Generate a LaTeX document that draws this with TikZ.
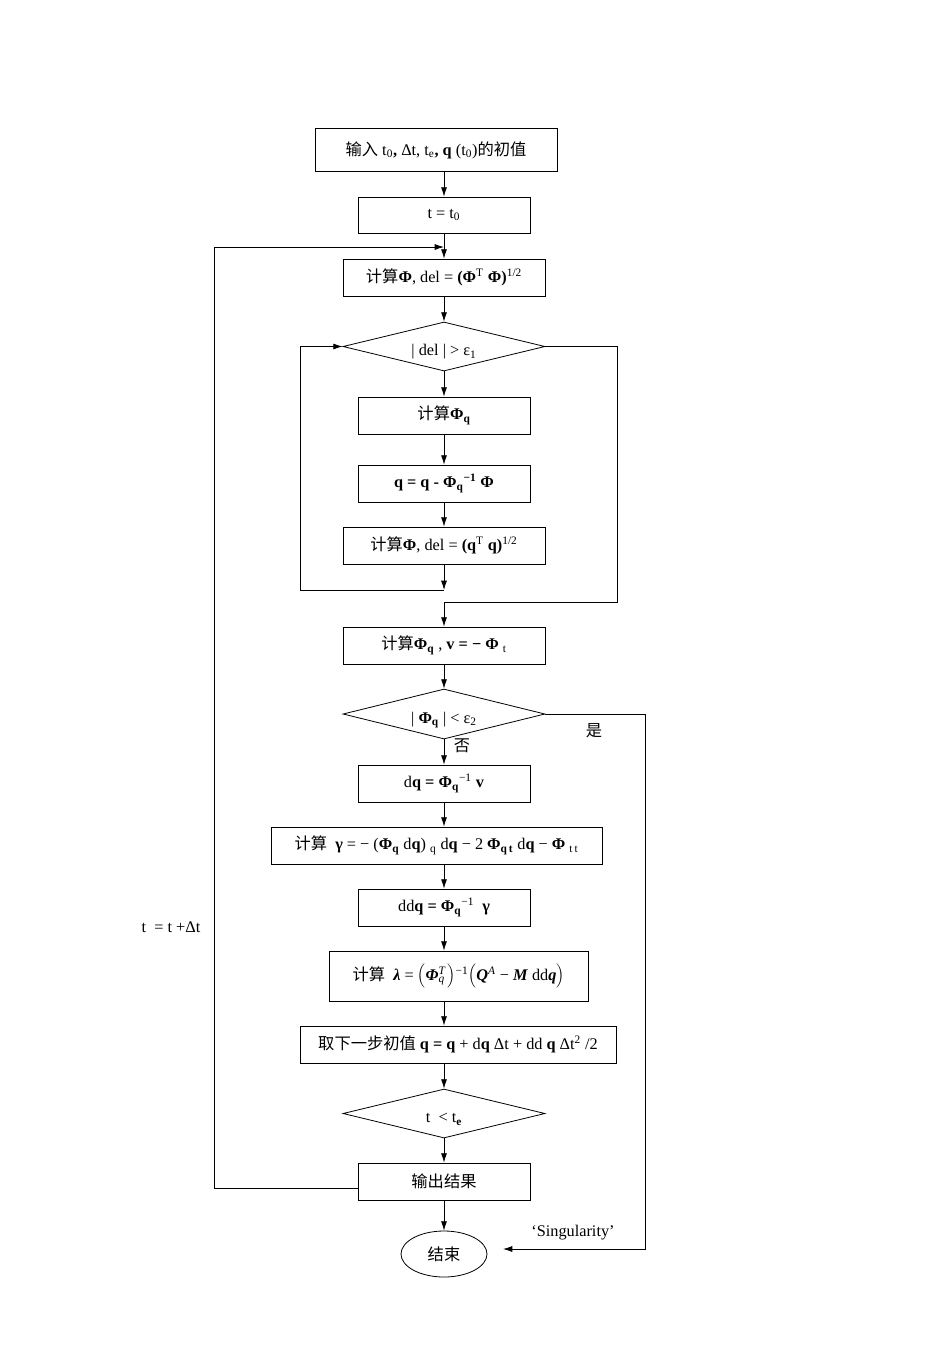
\documentclass[tikz,border=0pt]{standalone}
\usepackage{fontspec}
\setmainfont{Liberation Serif}
\newfontfamily\cjk{Noto Sans CJK SC}
\usetikzlibrary{shapes.geometric,arrows.meta}
\newcommand{\zh}[1]{{\cjk #1}}
\newcommand{\bsub}[1]{\textsubscript{\textbf{#1}}}
\newcommand{\sub}[1]{\textsubscript{#1}}
\newcommand{\sps}[1]{\textsuperscript{#1}}
\newcommand{\dn}[1]{\raisebox{-7pt}[0pt][0pt]{#1}}
\begin{document}
\begin{tikzpicture}[x=0.75pt,y=-0.75pt,
 font=\fontsize{12.2}{14}\selectfont,
 box/.style={draw,line width=0.6pt,inner sep=2pt,minimum height=27.75pt},
 dia/.style={draw,diamond,line width=0.6pt,inner sep=0pt,aspect=4,minimum width=151.5pt,minimum height=36.75pt},
 arr/.style={line width=0.6pt,-{Latex[length=7pt,width=4.5pt]}},
 ln/.style={line width=0.6pt}]
\useasboundingbox (0,0) rectangle (952,1347);

\node[box,minimum width=181.5pt,minimum height=32.25pt] (b1) at (436,150) {\zh{输入} t\sub{0}\textbf{,} Δt, t\sub{e}\textbf{,} \textbf{q} (t\sub{0})\zh{的初值}};
\node[box,minimum width=129pt,minimum height=27pt] (b2) at (444,215) {t = t\sub{0}};
\node[box,minimum width=151.5pt] (b3) at (444,277.5) {\zh{计算}\textbf{Φ}, del = \textbf{(Φ}\sps{T} \textbf{Φ)}\sps{1/2}};
\node[dia] (d1) at (444,346.5) {\dn{| del | > ε\sub{1}}};
\node[box,minimum width=129pt] (b4) at (444,415.5) {\zh{计算}\textbf{Φ\sub{q}}};
\node[box,minimum width=129pt] (b5) at (444,483.5) {\textbf{q = q - Φ\sub{q}\sps{−1} Φ}};
\node[box,minimum width=151.5pt] (b6) at (444,545.5) {\zh{计算}\textbf{Φ}, del = \textbf{(q}\sps{T} \textbf{q)}\sps{1/2}};
\node[box,minimum width=151.5pt] (b7) at (444,645.5) {\zh{计算}\textbf{Φ\sub{q}} , \textbf{v = − Φ} \sub{t}};
\node[dia,minimum height=37.5pt] (d2) at (444,714) {\dn{| \textbf{Φ\sub{q}} | < ε\sub{2}}};
\node[box,minimum width=129pt] (b8) at (444,783.5) {d\textbf{q = Φ\sub{q}}\sps{−1} \textbf{v}};
\node[box,minimum width=248.25pt] (b9) at (436.5,845.5) {\zh{计算}\ \ \textbf{γ} = − (\textbf{Φ\sub{q}} d\textbf{q}) \sub{q} d\textbf{q} − 2 \textbf{Φ\sub{q\,t}} d\textbf{q} − \textbf{Φ} \sub{t\,t}};
\node[box,minimum width=129pt] (b10) at (444,907.5) {dd\textbf{q = Φ\sub{q}}\sps{−1}\ \ \textbf{γ}};
\node[box,minimum width=194.25pt,minimum height=37.5pt] (b11) at (458.5,976) {\zh{计算}\ \ \textbf{\textit{λ}} = $\Bigl($\textbf{\textit{Φ}}\makebox[0pt][l]{\sps{\textit{T}}}\sub{\textit{q}}\,$\Bigr)$\sps{−1}$\Bigl($\textbf{\textit{Q}}\sps{\textit{A}} − \textbf{\textit{M}} dd\textbf{\textit{q}}$\Bigr)$};
\node[box,minimum width=237pt] (b12) at (458,1044.5) {\zh{取下一步初值} \textbf{q = q} + d\textbf{q} Δt + dd \textbf{q} Δt\sps{2} /2};
\node[dia] (d3) at (444,1113.5) {\dn{t\ \ < t\bsub{e}}};
\node[box,minimum width=129pt] (b13) at (444,1181.5) {\zh{输出结果}};
\node[draw,ellipse,line width=0.6pt,minimum width=64.5pt,minimum height=34.5pt,inner sep=0pt] (e) at (444,1254) {\zh{结束}};

\coordinate (J1) at (444,247);
\coordinate (L1) at (214,1188);
\coordinate (L2) at (214,247);
\coordinate (J2) at (444,590);
\coordinate (C1) at (300,590);
\coordinate (R1) at (617,347);
\coordinate (R2) at (617,602);
\coordinate (J3) at (444,602);
\coordinate (S2) at (645,1249);
\coordinate (S3) at (503,1249);

\draw[arr] (b1.south -| b2.north) -- (b2.north);
\draw[arr] (b2.south) -- (b3.north);
\draw[arr] (b13.west |- L1) -- (L1) -- (L2) -- (J1);
\draw[arr] (b3.south) -- (d1.north);
\draw[arr] (d1.south) -- (b4.north);
\draw[arr] (b4.south) -- (b5.north);
\draw[arr] (b5.south) -- (b6.north);
\draw[arr] (b6.south) -- (J2);
\draw[arr] (J2) -- (C1) -- (C1 |- d1.west) -- (d1.west);
\draw[arr] (d1.east) -- (d1.east -| R1) -- (R2) -- (J3) -- (b7.north);
\draw[arr] (b7.south) -- (d2.north);
\draw[arr] (d2.south) -- (b8.north);
\node (no) at (462,746) {\zh{否}};
\draw[arr] (d2.east) -- (d2.east -| S2) -- (S2) -- (S3);
\node (yes) at (594,731) {\zh{是}};
\node (sg) at (573,1233) {‘Singularity’};
\draw[arr] (b8.south) -- (b8.south |- b9.north);
\draw[arr] (b9.south -| b8) -- (b10.north);
\draw[arr] (b10.south) -- (b10.south |- b11.north);
\draw[arr] (b11.south -| b10) -- (b12.north -| b10);
\draw[arr] (b12.south -| b10) -- (d3.north);
\draw[arr] (d3.south) -- (b13.north);
\draw[arr] (b13.south) -- (e.north);
\node (lt) at (171,927) {t\ \ = t +Δt};
\end{tikzpicture}
\end{document}
